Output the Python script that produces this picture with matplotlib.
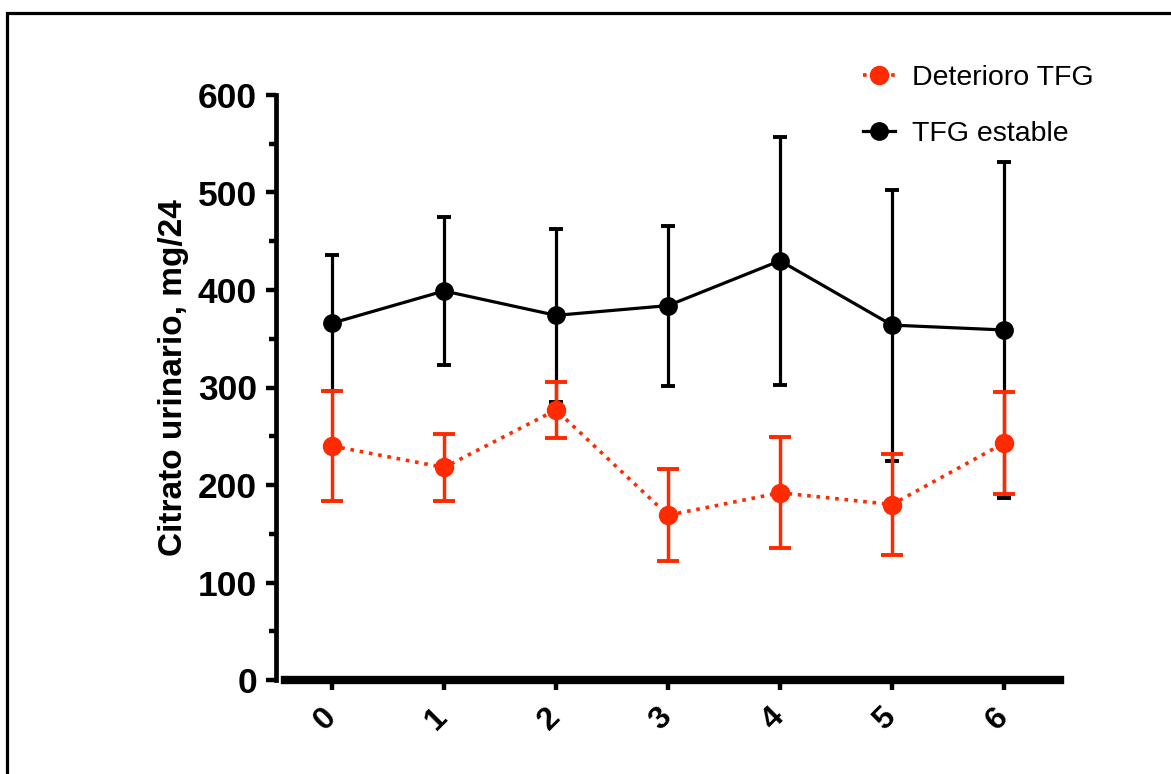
import matplotlib
matplotlib.use("Agg")
import matplotlib.pyplot as plt
from matplotlib.patches import Rectangle
import matplotlib.transforms as mtransforms
import numpy as np

plt.rcParams['font.family'] = ['Liberation Sans', 'DejaVu Sans']

# datos (media +/- DE)
semanas = [0, 1, 2, 3, 4, 5, 6]
estable_media = [366, 399, 374, 384, 430, 364, 359]
estable_de = [70, 76, 89, 82, 127, 139, 172]
deterioro_media = [240, 218, 277, 169, 192, 180, 243]
deterioro_de = [56, 34, 29, 47, 57, 52, 52]

rojo = '#ff2a00'

fig = plt.figure(figsize=(11.71, 7.74), dpi=100)
ax = fig.add_axes([276/1171, 94/774, 784/1171, 585/774])

# TFG estable (negro)
ax.errorbar(semanas, estable_media, yerr=estable_de, fmt='none', ecolor='black',
            elinewidth=2.3, capsize=5, capthick=2.8, zorder=2)
l2, = ax.plot(semanas, estable_media, '-o', color='black', lw=2.3, ms=12.5,
              label='TFG estable', zorder=3)

# Deterioro TFG (rojo)
ax.errorbar(semanas, deterioro_media, yerr=deterioro_de, fmt='none', ecolor=rojo,
            elinewidth=2.5, capsize=8, capthick=2.8, zorder=4)
l1, = ax.plot(semanas, deterioro_media, 'o', color=rojo, ls=(0, (1, 1.6)), lw=2.6,
              ms=13, label='Deterioro TFG', zorder=5)

ax.set_xlim(-0.5, 6.5)
ax.set_ylim(0, 600)
ax.set_yticks(np.arange(0, 601, 100))
ax.set_yticks(np.arange(50, 600, 100), minor=True)
ax.set_xticks(semanas)

for s in ['top', 'right']:
    ax.spines[s].set_visible(False)
ax.spines['left'].set_linewidth(3.4)
ax.spines['bottom'].set_linewidth(6.0)
ax.spines['bottom'].set_bounds(-0.42, 6.5)

ax.tick_params(axis='y', which='major', length=7, width=3.2, pad=6.5,
               labelsize=25.5)
ax.tick_params(axis='y', which='minor', length=5, width=3.2)
ax.tick_params(axis='x', which='major', length=7, width=3.2, pad=9,
               labelsize=23)
desplaza = mtransforms.ScaledTranslation(-7/100, 0, fig.dpi_scale_trans)
for t in ax.get_yticklabels():
    t.set_fontweight('bold')
for t in ax.get_xticklabels():
    t.set_fontweight('bold')
    t.set_rotation(45)
    t.set_ha('center')
    t.set_transform(t.get_transform() + desplaza)

ax.set_ylabel('Citrato urinario, mg/24', fontsize=24, fontweight='bold')
ax.yaxis.set_label_coords(-0.111, 0.517)

fig.legend(handles=[l1, l2], loc='upper left', bbox_to_anchor=(852/1171, 1 - 54/774),
           frameon=False, fontsize=20.5, handlelength=1.1, handletextpad=0.6,
           labelspacing=1.05, borderaxespad=0)

# marco exterior
fig.patches.append(Rectangle((7/1171, -0.2), 1.3, 1.2 - 13/774,
                             transform=fig.transFigure, fill=False,
                             edgecolor='black', lw=2.3))

fig.savefig('out.png', dpi=100)
